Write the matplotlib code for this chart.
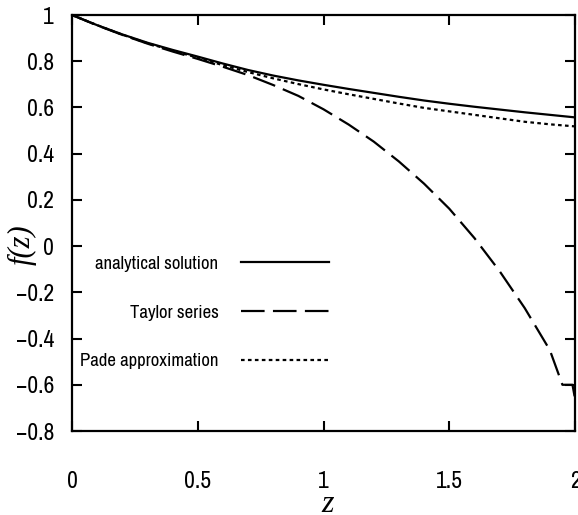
import numpy as np
import matplotlib
matplotlib.use('Agg')
from matplotlib import pyplot as plt

plt.rcParams['font.family'] = ['Archivo Narrow', 'DejaVu Sans']
plt.rcParams['lines.scale_dashes'] = False

# valores
z_analytical = [0.0, 0.1, 0.2, 0.3, 0.4, 0.5, 0.6, 0.7, 0.8, 0.9, 1.0,
                1.1, 1.2, 1.3, 1.4, 1.5, 1.6, 1.7, 1.8, 1.9, 2.0]
f_analytical = [1.0, 0.956, 0.916, 0.880, 0.849, 0.820, 0.790, 0.762, 0.738, 0.717, 0.698,
                0.680, 0.663, 0.646, 0.630, 0.616, 0.603, 0.591, 0.579, 0.568, 0.557]

z_taylor = [0.0, 0.1, 0.2, 0.3, 0.4, 0.5, 0.6, 0.7, 0.8, 0.9, 1.0,
            1.1, 1.2, 1.3, 1.4, 1.5, 1.6, 1.7, 1.8, 1.9, 1.95, 1.99, 2.0]
f_taylor = [1.0, 0.955, 0.914, 0.876, 0.842, 0.810, 0.776, 0.740, 0.697, 0.650, 0.592,
            0.526, 0.452, 0.366, 0.270, 0.162, 0.035, -0.108, -0.268, -0.450, -0.60, -0.60, -0.66]

z_pade = [0.0, 0.1, 0.2, 0.3, 0.4, 0.5, 0.6, 0.7, 0.8, 0.9, 1.0,
          1.1, 1.2, 1.3, 1.4, 1.5, 1.6, 1.7, 1.8, 1.9, 2.0]
f_pade = [1.0, 0.956, 0.915, 0.878, 0.846, 0.815, 0.783, 0.753, 0.726, 0.701, 0.678,
          0.657, 0.637, 0.617, 0.598, 0.583, 0.568, 0.553, 0.538, 0.527, 0.518]

xticks = [0, 0.5, 1, 1.5, 2]
xticklabels = ['0', '0.5', '1', '1.5', '2']
yticks = [1, 0.8, 0.6, 0.4, 0.2, 0, -0.2, -0.4, -0.6, -0.8]
yticklabels = ['1', '0.8', '0.6', '0.4', '0.2', '0', '\u22120.2', '\u22120.4', '\u22120.6', '\u22120.8']

fig = plt.figure(figsize=(5.78, 5.15), dpi=100)
ax = fig.add_axes([72/578, (515-431)/515, (575-72)/578, (431-15)/515])

ax.plot(z_analytical, f_analytical, color='black', lw=1.6, label='analytical solution')
ax.plot(z_taylor, f_taylor, color='black', lw=1.6, dashes=(17, 6), label='Taylor series')
ax.plot(z_pade, f_pade, color='black', lw=1.6, dashes=(2.6, 2.4), label='Pade approximation')

ax.set_xlim(0, 2)
ax.set_ylim(-0.8, 1)
ax.set_xticks(xticks)
ax.set_xticklabels(xticklabels)
ax.set_yticks(yticks)
ax.set_yticklabels(yticklabels)

ax.tick_params(direction='in', top=True, right=True, length=7, width=1.5, labelsize=17)
ax.tick_params(axis='x', pad=29)
ax.tick_params(axis='y', pad=13)
for sp in ax.spines.values():
    sp.set_linewidth(1.6)

ax.set_xlabel('z', fontsize=23, family='Liberation Serif', style='italic')
ax.set_ylabel('f(z)', fontsize=22, family='Liberation Serif', style='italic')
ax.xaxis.set_label_coords(0.509, -0.142)
ax.yaxis.set_label_coords(-0.07, 0.447)

ax.legend(loc='center right', bbox_to_anchor=(0.511, 0.285), frameon=False,
          markerfirst=False, fontsize=13.5, handlelength=4.7, handletextpad=1.2,
          labelspacing=1.75, borderpad=0, borderaxespad=0)

plt.savefig('out.png', dpi=100)
